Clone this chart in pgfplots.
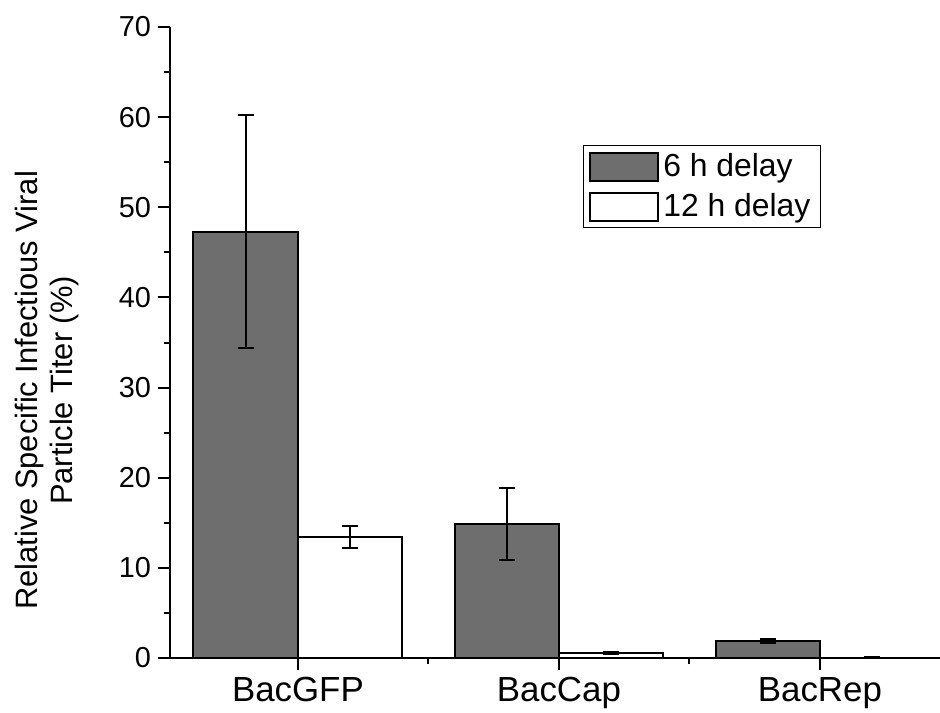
\documentclass[border=0pt]{standalone}
\usepackage{pgfplots}
\pgfplotsset{compat=1.18}
\usetikzlibrary{calc}
\usepackage{fontspec}
\setmainfont{Liberation Sans}
\begin{document}
\begin{tikzpicture}
\begin{axis}[
  name=ax,
  scale only axis,
  width=385bp, height=315.5bp,
  xmin=-0.49, xmax=2.46, ymin=0, ymax=70,
  ybar=0pt, bar width=0.4,
  axis x line*=bottom, axis y line*=left,
  axis line style={line width=1bp},
  xtick={0,1,2}, xticklabels={BacGFP,BacCap,BacRep},
  minor xtick={-0.5,0.5,1.5},
  ytick={0,10,...,70}, minor ytick={5,15,...,65},
  tick align=outside,
  major tick length=6bp, minor tick length=3bp,
  major tick style={line width=1bp, black},
  minor tick style={line width=1bp, black},
  /pgf/number format/assume math mode=true,
  yticklabel style={font=\fontsize{14.5}{16}\selectfont},
  xticklabel style={font=\fontsize{17.5}{20}\selectfont},
  ylabel={Relative Specific Infectious Viral\\Particle Titer (\%)},
  ylabel style={at={(axis description cs:-0.16,0.424)}, anchor=center, align=center, font=\fontsize{15.5}{17.5}\selectfont},
  legend style={at={(rel axis cs:0.536,0.813)}, anchor=north west, draw=black, line width=0.6bp,
    font=\fontsize{16}{18}\selectfont, inner xsep=3bp, inner ysep=2bp, row sep=3bp,
    /tikz/every even column/.append style={column sep=2bp}},
  legend cell align=left,
  legend image code/.code={\draw[#1, line width=1bp] (0bp,-7bp) rectangle (34bp,7bp);},
]
\addplot[fill=black!57, draw=black, line width=1bp,
  error bars/.cd, y dir=both, y explicit,
  error bar style={line width=1bp, black},
  error mark options={rotate=90, mark size=4bp, line width=1bp, black}]
  coordinates {(0,47.3) +- (0,12.9) (1,14.9) +- (0,4.0) (2,1.9) +- (0,0.25)};
\addlegendentry{6 h delay}
\addplot[fill=white, draw=black, line width=1bp,
  error bars/.cd, y dir=both, y explicit,
  error bar style={line width=1bp, black},
  error mark options={rotate=90, mark size=4bp, line width=1bp, black}]
  coordinates {(0,13.45) +- (0,1.2) (1,0.55) +- (0,0.12) (2,0.05) +- (0,0.02)};
\addlegendentry{12 h delay}
\end{axis}
\pgfresetboundingbox
\useasboundingbox ($(ax.south west)+(-85bp,-27.5bp)$) rectangle ($(ax.south west)+(385bp,329bp)$);
\end{tikzpicture}
\end{document}
